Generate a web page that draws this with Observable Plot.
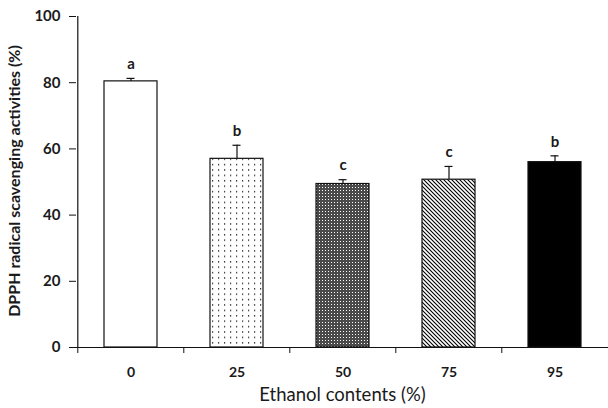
<!DOCTYPE html>
<html>
<head>
<meta charset="utf-8">
<script src="https://cdn.jsdelivr.net/npm/d3@7"></script>
<script src="https://cdn.jsdelivr.net/npm/@observablehq/plot@0.6"></script>
<style>
  html, body { margin: 0; padding: 0; background: #fff; }
  svg { display: block; }
</style>
</head>
<body>
<div id="chart"></div>
<script>
const categories = ["0", "25", "50", "75", "95"];
const means = [80.4, 57.0, 49.4, 50.7, 56.0];
const errors = [0.9, 4.1, 1.3, 4.0, 1.9];
const letters = ["a", "b", "c", "c", "b"];
const yTicks = [0, 20, 40, 60, 80, 100];
const xTitle = "Ethanol contents (%)";
const yTitle = "DPPH radical scavenging activities (%)";

const fillFor = {"0": "white", "25": "url(#pDots)", "50": "url(#pCross)", "75": "url(#pDiag)", "95": "black"};
const data = categories.map((c, i) => ({cat: c, mean: means[i], err: errors[i], top: means[i] + errors[i], letter: letters[i], fill: fillFor[c]}));

const W = 608, H = 408, mL = 76, mR = 0, mT = 16, mB = 61;
const half = (W - mL - mR) / categories.length / 2;
const ink = "#1a1a1a";
const font = "Lato, 'Open Sans', sans-serif";

const chart = Plot.plot({
  width: W, height: H,
  marginLeft: mL, marginRight: mR, marginTop: mT, marginBottom: mB,
  style: {fontFamily: font, color: ink, background: "white"},
  x: {type: "band", domain: categories, paddingInner: 0.5, paddingOuter: 0.25, axis: null},
  y: {domain: [0, 100], axis: null},
  color: {type: "identity"},
  marks: [
    Plot.barY(data, {x: "cat", y: "mean", fill: "fill", stroke: "#111", strokeWidth: 1.2}),
    Plot.ruleX(data, {x: "cat", y1: "mean", y2: "top", stroke: "#111", strokeWidth: 1.2}),
    Plot.tickY(data, {x: "cat", y: "top", stroke: "#111", strokeWidth: 1.2, insetLeft: 22.5, insetRight: 22.5}),
    Plot.text(data, {x: "cat", y: "top", text: "letter", dy: -14, fontSize: 15, fontWeight: "bold", fill: ink}),
    Plot.ruleY([0], {stroke: "#111", strokeWidth: 1.2}),
    Plot.ruleX([categories[0]], {x: d => d, y1: 0, y2: 100, dx: -half, stroke: "#111", strokeWidth: 1.2}),
    Plot.axisY({ticks: yTicks, tickSize: 7, tickPadding: 9, fontSize: 15, fontWeight: "bold", label: null, stroke: "#111"}),
    Plot.axisX({tickSize: 6, dx: -half, tickFormat: () => "", label: null, stroke: "#111"}),
    Plot.axisX({tickSize: 0, tickPadding: 20, fontSize: 14, fontWeight: "bold", label: null}),
    Plot.text([xTitle], {frameAnchor: "bottom", lineAnchor: "middle", dy: 48, fontSize: 18.5, fill: ink}),
    Plot.text([yTitle], {frameAnchor: "left", textAnchor: "middle", lineAnchor: "middle", rotate: -90, dx: -62, dy: -1, fontSize: 16, fontWeight: "bold", fill: ink})
  ]
});

const ns = "http://www.w3.org/2000/svg";
const defs = document.createElementNS(ns, "defs");
defs.innerHTML = `
  <pattern id="pDots" width="6" height="5.4" patternUnits="userSpaceOnUse">
    <rect width="6" height="5.4" fill="white"/>
    <rect x="2" y="2" width="1.2" height="1.2" fill="black"/>
  </pattern>
  <pattern id="pCross" width="3" height="3" patternUnits="userSpaceOnUse">
    <rect width="3" height="3" fill="#4a4a4a"/>
    <rect x="1" y="1" width="1" height="1" fill="white"/>
  </pattern>
  <pattern id="pDiag" width="4" height="4" patternUnits="userSpaceOnUse">
    <rect width="4" height="4" fill="white"/>
    <path d="M-1,-1 L5,5 M-1,3 L1,5 M3,-1 L5,1" stroke="black" stroke-width="1.1"/>
  </pattern>`;
chart.insertBefore(defs, chart.firstChild);
document.getElementById("chart").appendChild(chart);
</script>
</body>
</html>
